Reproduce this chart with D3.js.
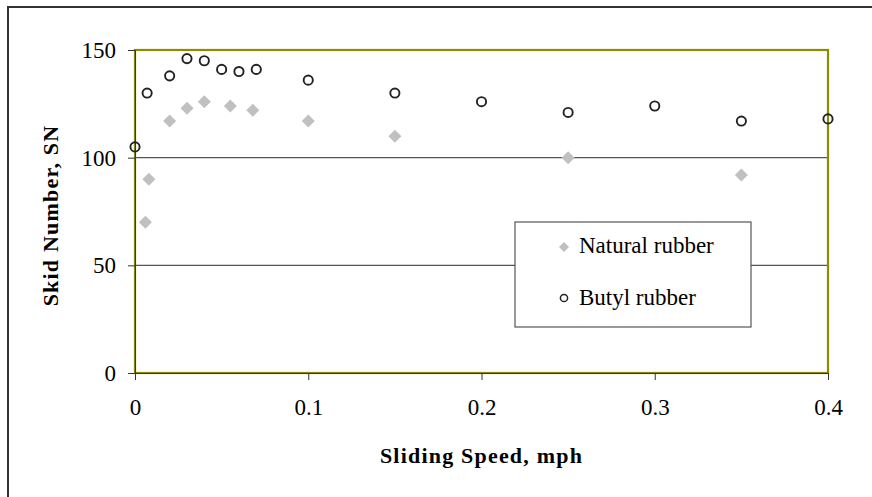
<!DOCTYPE html>
<html>
<head>
<meta charset="utf-8">
<script src="https://cdn.jsdelivr.net/npm/d3@7"></script>
<style>
  html, body { margin: 0; padding: 0; background: #fff; }
  svg { display: block; }
  text { font-family: "Liberation Serif", "Times New Roman", serif; fill: #000; }
</style>
</head>
<body>
<svg id="chart" width="872" height="497"></svg>
<script>
// ---- data ----
const naturalSpeed = [0.006, 0.008, 0.02, 0.03, 0.04, 0.055, 0.068, 0.1, 0.15, 0.25, 0.35];
const naturalSN    = [70, 90, 117, 123, 126, 124, 122, 117, 110, 100, 92];
const butylSpeed   = [0, 0.007, 0.02, 0.03, 0.04, 0.05, 0.06, 0.07, 0.1, 0.15, 0.2, 0.25, 0.3, 0.35, 0.4];
const butylSN      = [105, 130, 138, 146, 145, 141, 140, 141, 136, 130, 126, 121, 124, 117, 118];
const xTicks = [0, 0.1, 0.2, 0.3, 0.4];
const yTicks = [0, 50, 100, 150];
const seriesNames = ["Natural rubber", "Butyl rubber"];
const xTitle = "Sliding Speed, mph";
const yTitle = "Skid Number, SN";

// ---- layout ----
const svg = d3.select("#chart");
const plot = { left: 135, top: 50, right: 828, bottom: 373 };

const x = d3.scaleLinear().domain([0, 0.4]).range([plot.left, plot.right]);
const y = d3.scaleLinear().domain([0, 150]).range([plot.bottom, plot.top]);

// outer frame (extends beyond the right/bottom edges)
svg.append("rect")
  .attr("x", 8).attr("y", 7).attr("width", 880).attr("height", 510)
  .attr("fill", "none").attr("stroke", "#333").attr("stroke-width", 2);

// gridlines
svg.append("g").selectAll("line")
  .data(yTicks.filter(d => d > 0 && d < 150))
  .join("line")
  .attr("x1", plot.left).attr("x2", plot.right)
  .attr("y1", d => y(d)).attr("y2", d => y(d))
  .attr("stroke", "#555").attr("stroke-width", 1.2);

// plot area border (olive)
svg.append("rect")
  .attr("x", plot.left).attr("y", plot.top)
  .attr("width", plot.right - plot.left).attr("height", plot.bottom - plot.top)
  .attr("fill", "none").attr("stroke", "#8c8c00").attr("stroke-width", 2.2);

// axes
const fontTick = "23px";
const yAxis = d3.axisLeft(y).tickValues(yTicks).tickSize(7).tickPadding(12).tickFormat(d3.format("d"));
const gy = svg.append("g").attr("transform", `translate(${plot.left},0)`).call(yAxis);
gy.attr("font-family", null);
gy.select(".domain").attr("stroke", "#333").attr("stroke-width", 1);
gy.selectAll(".tick line").attr("stroke", "#333");
gy.selectAll("text").style("font-size", fontTick);

const xAxis = d3.axisBottom(x).tickValues(xTicks).tickSize(7).tickPadding(19).tickFormat(d => d === 0 ? "0" : d3.format(".1f")(d));
const gx = svg.append("g").attr("transform", `translate(0,${plot.bottom})`).call(xAxis);
gx.attr("font-family", null);
gx.select(".domain").attr("stroke", "#333").attr("stroke-width", 1);
gx.selectAll(".tick line").attr("stroke", "#333");
gx.selectAll("text").style("font-size", fontTick);

// axis titles
svg.append("text")
  .attr("x", (plot.left + plot.right) / 2).attr("y", 463)
  .attr("text-anchor", "middle")
  .style("font-size", "22px").style("font-weight", "bold").style("letter-spacing", "1.2px")
  .text(xTitle);

svg.append("text")
  .attr("transform", `translate(58,${(plot.top + plot.bottom) / 2 + 4}) rotate(-90)`)
  .attr("text-anchor", "middle")
  .style("font-size", "22px").style("font-weight", "bold").style("letter-spacing", "1.2px")
  .text(yTitle);

// markers
function diamondPath(s) {
  return `M0,${-s} L${s},0 L0,${s} L${-s},0 Z`;
}

const natural = naturalSpeed.map((s, i) => ({ s, v: naturalSN[i] }));
const butyl = butylSpeed.map((s, i) => ({ s, v: butylSN[i] }));

svg.append("g").selectAll("path")
  .data(natural).join("path")
  .attr("transform", d => `translate(${x(d.s)},${y(d.v)})`)
  .attr("d", diamondPath(6.5))
  .attr("fill", "#c0c0c0");

svg.append("g").selectAll("circle")
  .data(butyl).join("circle")
  .attr("cx", d => x(d.s)).attr("cy", d => y(d.v))
  .attr("r", 4.6)
  .attr("fill", "none").attr("stroke", "#222").attr("stroke-width", 1.9);

// legend
const lg = svg.append("g");
lg.append("rect")
  .attr("x", 515).attr("y", 222).attr("width", 236).attr("height", 105)
  .attr("fill", "#fff").attr("stroke", "#555").attr("stroke-width", 1.2);
lg.append("path")
  .attr("transform", "translate(564,247)")
  .attr("d", diamondPath(5))
  .attr("fill", "#c0c0c0");
lg.append("circle")
  .attr("cx", 564).attr("cy", 298).attr("r", 3.6)
  .attr("fill", "none").attr("stroke", "#222").attr("stroke-width", 1.5);
lg.selectAll("text.lt")
  .data(seriesNames).join("text")
  .attr("class", "lt")
  .attr("x", 579).attr("y", (d, i) => 253 + i * 52)
  .style("font-size", "23px")
  .text(d => d);
</script>
</body>
</html>
